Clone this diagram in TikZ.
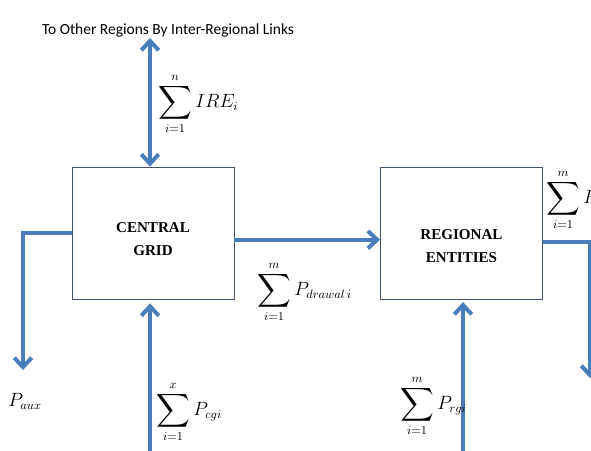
\documentclass[tikz,border=0pt]{standalone}
\usepackage{amsmath,amssymb,graphicx}
\usepackage{fontspec}
\setmainfont{Liberation Serif}
\newfontfamily\linkfont{Carlito}
\usetikzlibrary{arrows.meta,positioning}
\definecolor{flowblue}{RGB}{74,126,187}
\definecolor{boxline}{RGB}{70,85,110}

\newcommand{\bigsum}{\mathop{\vcenter{\hbox{\scalebox{1.3}{$\displaystyle\sum$}}}}\limits}

\tikzset{
  gridbox/.style={draw=boxline, line width=0.6pt, minimum width=121.5pt,
    minimum height=99pt, align=center, font=\fontsize{11.3}{17}\selectfont\bfseries},
  flow/.style={draw=flowblue, line width=3pt},
  sumlabel/.style={font=\fontsize{13.5}{16}\selectfont, inner sep=0pt}
}

\begin{document}
\begin{tikzpicture}[x=0.75pt, y=-0.75pt, >={Straight Barb[length=7pt,width=13pt]}]

  \clip (0,0) rectangle (591,450);

  %% ── Blocks ──────────────────────────────────────────────────────
  \node[gridbox] (cg) at (153,233) {\\CENTRAL\\GRID};
  \node[gridbox] (re) at (461.5,233) {\\[10.5pt]REGIONAL\\ENTITIES};

  %% ── Free ends ───────────────────────────────────────────────────
  \coordinate (ire)  at (150,38);
  \coordinate (aux)  at (23,370);
  \coordinate (cgin) at (150,452);
  \coordinate (rgin) at (463,452);
  \coordinate (rdout) at (590,378);

  %% ── Inter-regional links ────────────────────────────────────────
  \node[font=\linkfont\fontsize{11.6}{13}\selectfont, anchor=base] (links)
    at (168,34) {To Other Regions By Inter-Regional Links};
  \draw[flow, <->] (ire) -- (ire |- cg.north);
  \node[sumlabel, anchor=west] (ire lbl) at (158,104)
    {$\bigsum_{i=1}^{n} IRE_i$};

  %% ── Auxiliary consumption ───────────────────────────────────────
  \draw[flow, ->] (cg.west) -| (aux);
  \node[sumlabel] (aux lbl) at (25,401) {$P_{aux}$};

  %% ── Drawal to regional entities ─────────────────────────────────
  \draw[flow, ->] ([yshift=-5pt]cg.east) -- ([yshift=-5pt]re.west);
  \node[sumlabel, anchor=west] (drawal lbl) at (257,292)
    {$\bigsum_{i=1}^{m} P_{drawal\,i}$};

  %% ── Central generation ──────────────────────────────────────────
  \draw[flow, ->] (cgin) -- ([yshift=-3pt]cgin |- cg.south);
  \node[sumlabel, anchor=west] (cgi lbl) at (156,412)
    {$\bigsum_{i=1}^{x} P_{cgi}$};

  %% ── Regional generation ─────────────────────────────────────────
  \draw[flow, ->] (rgin) -- ([yshift=-2pt]rgin |- re.south);
  \node[sumlabel, anchor=west] (rgi lbl) at (400,406)
    {$\bigsum_{i=1}^{m} P_{rgi}$};

  %% ── Regional demand ─────────────────────────────────────────────
  \draw[flow, ->] ([yshift=-6.5pt]re.east) -| (rdout);
  \node[sumlabel, anchor=west] (rd lbl) at (546,200)
    {$\bigsum_{i=1}^{m} P_{rd\,i}$};

\end{tikzpicture}
\end{document}
